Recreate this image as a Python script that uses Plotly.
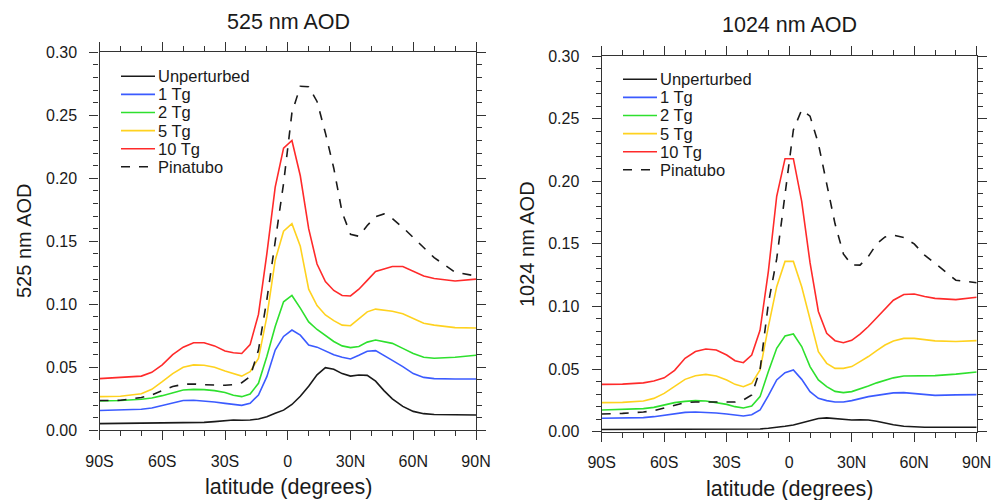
import plotly.graph_objects as go

LAT = [-90, -80, -70, -65, -60, -55, -50, -45, -40, -35, -30, -26, -22, -18, -14, -10, -6, -2,
       2, 6, 10, 14, 18, 22, 26, 30, 34, 38, 42, 46, 50, 55, 60, 65, 70, 80, 90]

SERIES = ["Unperturbed", "1 Tg", "2 Tg", "5 Tg", "10 Tg", "Pinatubo"]

# 525 nm AOD
aod525_unpert = [.0053, .0054, .0056, .0057, .0058, .0059, .006, .0061, .0063, .0069, .0077, .0082, .008, .0082, .009, .0108, .0135, .016,
                 .0205, .027, .035, .044, .0497, .0485, .045, .043, .0439, .0436, .039, .0315, .025, .019, .015, .0132, .0125, .0122, .0122]
aod525_1tg = [.0157, .016, .0167, .0177, .0196, .022, .0236, .0238, .0233, .0225, .0214, .0204, .0198, .0214, .028, .0426, .0637, .0745,
              .0796, .0755, .0677, .066, .063, .060, .058, .0566, .0595, .0628, .0632, .059, .0555, .0505, .045, .042, .041, .0407, .0407]
aod525_2tg = [.0233, .0236, .0246, .0257, .0275, .030, .032, .0325, .0323, .0315, .030, .0278, .0267, .0288, .0373, .0585, .0823, .102,
              .107, .097, .086, .080, .075, .0705, .067, .0656, .0665, .070, .0716, .0705, .069, .065, .061, .058, .0572, .058, .0596]
aod525_5tg = [.0267, .027, .029, .0325, .0386, .045, .050, .0519, .0516, .050, .047, .0447, .043, .0466, .057, .09, .135, .158,
              .164, .146, .112, .099, .0915, .087, .0835, .083, .0885, .094, .0962, .0955, .0945, .0925, .0885, .085, .0835, .0815, .0812]
aod525_10tg = [.041, .042, .043, .046, .052, .060, .066, .0695, .0695, .067, .063, .0615, .061, .068, .092, .14, .193, .224,
               .23, .202, .16, .132, .118, .111, .107, .1066, .112, .119, .126, .128, .130, .130, .126, .1225, .1205, .1185, .120]
aod525_pina = [.0236, .0238, .026, .028, .0315, .0347, .0365, .0368, .0362, .0357, .0357, .0362, .0378, .0426, .0637, .1035, .15, .196,
               .252, .273, .2727, .261, .236, .208, .173, .1555, .154, .1625, .1695, .1717, .168, .161, .153, .145, .137, .1255, .1225]

# 1024 nm AOD
aod1024_unpert = [.0018, .0018, .0018, .0018, .0018, .0018, .0018, .0018, .0019, .0019, .0019, .0019, .002, .002, .0022, .0027, .0033, .0043,
                  .0053, .0072, .0092, .0106, .011, .0104, .0097, .0093, .0095, .0094, .0083, .0067, .0055, .0044, .0038, .0036, .0035, .0035, .0035]
aod1024_1tg = [.0107, .0107, .0112, .012, .013, .0144, .0154, .0157, .0154, .0149, .0141, .013, .0125, .0136, .0173, .0288, .0413, .0471,
               .0493, .0418, .032, .0266, .0248, .0237, .0237, .0248, .0265, .028, .029, .030, .031, .0312, .0305, .0297, .029, .0294, .0296]
aod1024_2tg = [.0173, .0176, .0184, .0194, .0213, .0232, .0242, .0248, .0245, .0234, .0218, .020, .0189, .0205, .028, .048, .0666, .0764,
               .078, .068, .052, .0413, .036, .0322, .0312, .032, .034, .0365, .039, .0413, .043, .0445, .0447, .0445, .0448, .046, .0477]
aod1024_5tg = [.0232, .0234, .0245, .0266, .0306, .0365, .0418, .0447, .0458, .0445, .0413, .0378, .0359, .0386, .0493, .0839, .1158, .136,
               .136, .1158, .0892, .0639, .0546, .0506, .0506, .052, .056, .060, .0648, .0692, .0725, .0745, .0745, .0735, .0725, .072, .0727]
aod1024_10tg = [.0378, .038, .039, .0405, .043, .049, .0586, .064, .066, .0652, .0612, .0567, .0551, .0612, .081, .128, .188, .218,
                .218, .184, .135, .096, .0785, .0727, .071, .073, .078, .084, .091, .098, .105, .1095, .110, .108, .1065, .1055, .1073]
aod1024_pina = [.0141, .0146, .0157, .0168, .0189, .0213, .0232, .0237, .0237, .0234, .0234, .0237, .0253, .0293, .0493, .1025, .138, .19,
                .241, .257, .252, .230, .198, .166, .142, .1331, .133, .140, .150, .1555, .157, .155, .150, .141, .1345, .121, .119]

XTICK_VALS = [-90, -60, -30, 0, 30, 60, 90]
XTICK_TEXT = ["90S", "60S", "30S", "0", "30N", "60N", "90N"]
YTICK_VALS = [0, 0.05, 0.10, 0.15, 0.20, 0.25, 0.30]
YTICK_TEXT = ["0.00", "0.05", "0.10", "0.15", "0.20", "0.25", "0.30"]

COLORS = ["#1a1a1a", "#3b5bff", "#2ee02e", "#ffd21f", "#ff2a2a", "#1a1a1a"]
DASHES = ["solid"] * 5 + ["dash"]

FONT = "Liberation Sans, Arial, Helvetica, sans-serif"
TXT = "#1a1a1a"

W, H = 992, 500


def px(x):
    return x / W


def py(y):
    return 1 - y / H


fig = go.Figure()

panels = [
    ([aod525_unpert, aod525_1tg, aod525_2tg, aod525_5tg, aod525_10tg, aod525_pina], "x", "y"),
    ([aod1024_unpert, aod1024_1tg, aod1024_2tg, aod1024_5tg, aod1024_10tg, aod1024_pina], "x2", "y2"),
]
for data, xa, ya in panels:
    for name, vals, col, dash in zip(SERIES, data, COLORS, DASHES):
        fig.add_trace(go.Scatter(x=LAT, y=vals, mode="lines", name=name,
                                 line=dict(color=col, width=1.6, dash=dash),
                                 xaxis=xa, yaxis=ya, showlegend=False))

axcommon = dict(showline=True, linecolor="#333", linewidth=1.3, mirror="allticks",
                ticks="outside", ticklen=9, tickwidth=1.2, tickcolor="#333",
                showgrid=False, zeroline=False, automargin=False,
                ticklabeloverflow="allow",
                tickfont=dict(family=FONT, size=16, color=TXT))
xcommon = dict(axcommon, range=[-90, 90], tickvals=XTICK_VALS, ticktext=XTICK_TEXT,
               minor=dict(dtick=10, tick0=-90, ticklen=5, tickwidth=1.1, tickcolor="#333", ticks="outside"),
               ticklabelstandoff=7)
ycommon = dict(axcommon, range=[0, 0.30], tickvals=YTICK_VALS, ticktext=YTICK_TEXT,
               minor=dict(dtick=0.01, tick0=0, ticklen=5, tickwidth=1.1, tickcolor="#333", ticks="outside"),
               ticklabelstandoff=9)

fig.update_layout(
    width=W, height=H,
    margin=dict(l=0, r=0, t=0, b=0),
    paper_bgcolor="white", plot_bgcolor="white",
    xaxis=dict(xcommon, domain=[px(99.5), px(476)], anchor="y"),
    yaxis=dict(ycommon, domain=[py(430.3), py(52.3)], anchor="x"),
    xaxis2=dict(xcommon, domain=[px(601.7), px(976.7)], anchor="y2"),
    yaxis2=dict(ycommon, domain=[py(431.7), py(56)], anchor="x2"),
    showlegend=False,
)

# manual legends (one per panel)
LEGENDS = [(121, 155, 76.3), (623, 657, 79.3)]
STEP = 18.1
for lx0, lx1, ly0 in LEGENDS:
    for i, (name, col, dash) in enumerate(zip(SERIES, COLORS, DASHES)):
        yy = py(ly0 + i * STEP)
        fig.add_shape(type="line", xref="paper", yref="paper",
                      x0=px(lx0), x1=px(lx1), y0=yy, y1=yy,
                      line=dict(color=col, width=1.6, dash=dash))
        fig.add_annotation(xref="paper", yref="paper", x=px(lx1 + 0.5), y=yy,
                           xanchor="left", yanchor="middle", showarrow=False, text=name,
                           font=dict(family=FONT, size=16.5, color=TXT))

ann = [
    dict(text="525 nm AOD", x=px(288), y=py(22), font_size=21.5),
    dict(text="1024 nm AOD", x=px(789), y=py(25), font_size=21.5),
    dict(text="latitude (degrees)", x=px(288), y=py(487), font_size=21.5),
    dict(text="latitude (degrees)", x=px(789), y=py(489), font_size=21.5),
    dict(text="525 nm AOD", x=px(24), y=py(241), font_size=20, textangle=-90),
    dict(text="1024 nm AOD", x=px(527), y=py(244), font_size=20, textangle=-90),
]
for a in ann:
    fs = a.pop("font_size")
    fig.add_annotation(xref="paper", yref="paper", xanchor="center", yanchor="middle",
                       showarrow=False, font=dict(family=FONT, size=fs, color=TXT), **a)

# remove the default page margin so the 992x500 figure fills the window exactly
fig.write_html("out.html",
               config={"displayModeBar": False},
               post_script="document.body.style.margin='0';document.body.style.overflow='hidden';")
